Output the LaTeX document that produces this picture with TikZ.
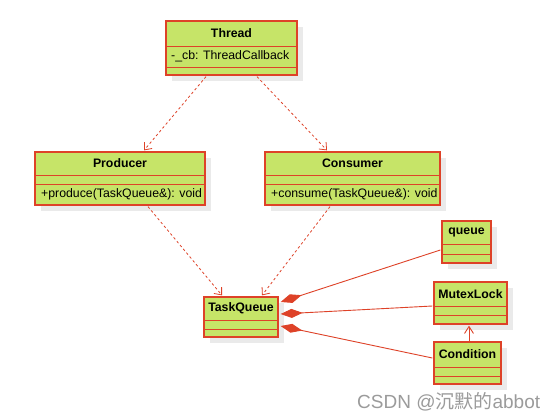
\documentclass[tikz,border=0pt]{standalone}
\usepackage{fontspec}
\setmainfont{Liberation Sans}
\newfontfamily\cjkfont{Noto Sans CJK SC}
\usetikzlibrary{arrows.meta,calc}
\definecolor{umlfill}{RGB}{198,228,104}
\definecolor{umlred}{RGB}{222,66,40}
\definecolor{umlshadow}{RGB}{234,234,234}
\definecolor{wmgray}{RGB}{155,155,155}
\tikzset{
 classbox/.style={draw=umlred, fill=umlfill, line width=1.3pt, inner sep=0pt, rectangle},
 sepline/.style={draw=umlred, line width=1pt},
 shadowbox/.style={fill=umlshadow},
 classtitle/.style={font=\fontsize{12.3}{14}\selectfont\bfseries, inner sep=0pt},
 classtext/.style={font=\fontsize{12.3}{14}\selectfont, inner sep=0pt, anchor=west},
 depend/.style={draw=umlred, line width=0.8pt, dash pattern=on 2.5pt off 2.5pt, -{Straight Barb[length=6pt,width=10pt]}},
 compose/.style={draw=umlred, line width=0.9pt, {Diamond[length=22pt,width=9pt]}-},
 assoc/.style={draw=umlred, line width=0.9pt, -{Straight Barb[length=7pt,width=9pt]}},
}
% name, x1, y1, x2, y2, header bottom, attr bottom, title
\newcommand\umlbox[8]{%
  \fill[shadowbox] (#2+6,#3+6) rectangle (#4+6,#5+6);
  \node[classbox, minimum width={(#4-#2)*1pt}, minimum height={(#5-#3)*1pt}] (#1) at ({(#2+#4)/2},{(#3+#5)/2}) {};
  \draw[sepline] (#2,#6) -- (#4,#6);
  \draw[sepline] (#2,#7) -- (#4,#7);
  \node[classtitle] (#1-title) at ({(#2+#4)/2},{(#3+#6)/2}) {#8};
}
\begin{document}
\begin{tikzpicture}[x=1pt,y=-1pt]
\fill[white] (0,0) rectangle (553,418);
\useasboundingbox (0,0) rectangle (553,418);

\umlbox{thread}{166}{21}{297}{75}{46}{67}{Thread}
\node[classtext] (thread-attr) at (171,56.5) {-\_cb: ThreadCallback};

\umlbox{producer}{35}{152}{205}{205}{175}{184}{Producer}
\node[classtext] (producer-op) at (41,194.5) {+produce(TaskQueue\&): void};

\umlbox{consumer}{265}{152}{440}{205}{175}{184}{Consumer}
\node[classtext] (consumer-op) at (271,194.5) {+consume(TaskQueue\&): void};

\umlbox{taskqueue}{204}{297}{278}{337}{320}{329}{TaskQueue}
\umlbox{queue}{442}{221}{491}{263}{244}{254}{queue}
\umlbox{mutexlock}{434}{282}{507}{324}{306}{315}{MutexLock}
\umlbox{condition}{434}{342}{501}{384}{367}{376}{Condition}

% dependencies
\draw[depend] ($(thread.south)+(-25.5,1)$) -- ($(producer.north)+(24,-1)$);
\draw[depend] ($(thread.south)+(25.5,1)$) -- ($(consumer.north)+(-25.5,-1)$);
\draw[depend] ($(producer.south)+(28,1)$) -- ($(taskqueue.north)+(-19,-1)$);
\draw[depend] ($(consumer.south)+(-22.5,1)$) -- ($(taskqueue.north)+(21,-1)$);

% compositions
\draw[compose] ($(taskqueue.east)+(2,-15)$) -- ($(queue.west)+(-1,8)$);
\draw[compose] ($(taskqueue.east)+(2,-3)$) -- ($(mutexlock.west)+(-1,3)$);
\draw[compose] ($(taskqueue.east)+(2,9)$) -- ($(condition.west)+(-1,-5)$);

% association
\draw[assoc] ($(condition.north)+(1.5,0)$) -- ($(mutexlock.south)+(-1.5,1)$);

\node[anchor=base west, text=wmgray, font=\fontsize{19}{22}\selectfont, inner sep=0pt] (watermark) at (357,408) {CSDN @{\cjkfont 沉默的}abbot};
\end{tikzpicture}
\end{document}
